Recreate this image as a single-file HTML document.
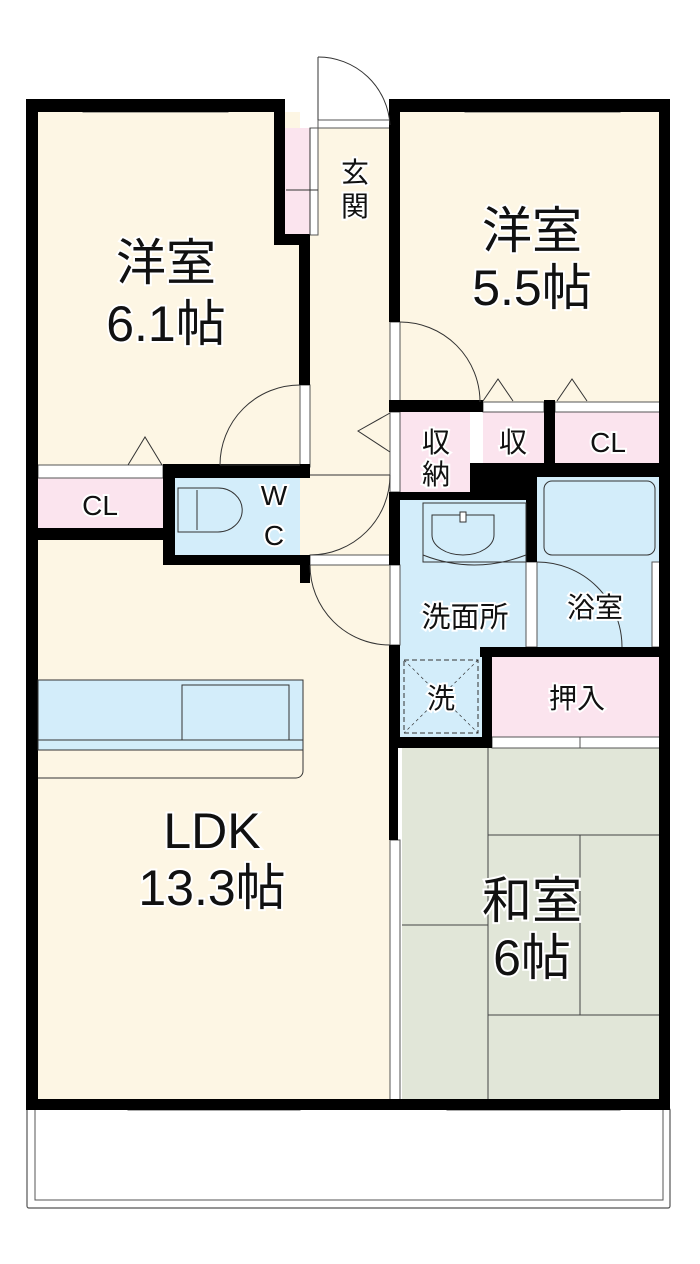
<!DOCTYPE html>
<html><head><meta charset="utf-8"><style>
html,body{margin:0;padding:0;background:#fff}
svg{display:block}
text{font-family:"Liberation Sans","Noto Sans CJK JP",sans-serif;fill:#111;stroke:#fff;stroke-width:4;paint-order:stroke;text-anchor:middle}
</style></head><body>
<svg width="700" height="1264" viewBox="0 0 700 1264" xmlns="http://www.w3.org/2000/svg">
<rect x="27" y="1108" width="643" height="100" fill="none" stroke="#555" stroke-width="1.2" rx="2"/>
<rect x="35" y="1108" width="628" height="92" fill="none" stroke="#555" stroke-width="1"/>
<rect x="38" y="112" width="262" height="355" fill="#fdf6e4"/>
<rect x="300" y="235" width="100" height="330" fill="#fdf6e4"/>
<rect x="38" y="540" width="352" height="562" fill="#fdf6e4"/>
<rect x="400" y="112" width="262" height="290" fill="#fdf6e4"/>
<rect x="318" y="128" width="72" height="107" fill="#fdf6e4"/>
<rect x="285" y="128" width="33" height="107" fill="#fbe4ee"/>
<rect x="38" y="478" width="125" height="50" fill="#fbe4ee"/>
<rect x="400" y="412" width="70" height="80" fill="#fbe4ee"/>
<rect x="483" y="412" width="61" height="51" fill="#fbe4ee"/>
<rect x="555" y="412" width="107" height="51" fill="#fbe4ee"/>
<rect x="492" y="657" width="170" height="80" fill="#fbe4ee"/>
<rect x="175" y="478" width="125" height="78" fill="#d3edfa"/>
<rect x="400" y="500" width="126" height="147" fill="#d3edfa"/>
<rect x="400" y="647" width="82" height="90" fill="#d3edfa"/>
<rect x="537" y="477" width="125" height="170" fill="#d3edfa"/>
<rect x="402" y="748" width="260" height="354" fill="#e1e6d8"/>
<g stroke="#444" stroke-width="1" fill="none">
<line x1="488" y1="748" x2="488" y2="1102"/>
<line x1="488" y1="835" x2="662" y2="835"/>
<line x1="580" y1="835" x2="580" y2="1015"/>
<line x1="488" y1="1015" x2="662" y2="1015"/>
<line x1="402" y1="925" x2="488" y2="925"/>
</g>
<g fill="#fff" stroke="#555" stroke-width="1">
<rect x="38" y="465" width="125" height="13"/>
<rect x="483" y="402" width="61" height="10"/>
<rect x="555" y="402" width="107" height="10"/>
<rect x="492" y="737" width="170" height="11"/>
<rect x="310" y="128" width="8" height="107"/>
<rect x="318" y="120" width="72" height="8"/>
<rect x="300" y="385" width="10" height="82"/>
<rect x="310" y="555" width="80" height="10"/>
<rect x="390" y="322" width="10" height="82"/>
<rect x="390" y="412" width="10" height="80"/>
<rect x="390" y="565" width="10" height="80"/>
<rect x="390" y="840" width="10" height="262"/>
<rect x="526" y="562" width="11" height="85"/>
<rect x="652" y="562" width="10" height="85"/>
<rect x="83" y="100" width="145" height="12"/>
<rect x="465" y="100" width="155" height="12"/>
<rect x="128" y="1100" width="172" height="10"/>
<rect x="447" y="1100" width="173" height="10"/>
</g>
<g stroke="#555" stroke-width="1">
<line x1="155" y1="100" x2="155" y2="112"/><line x1="543" y1="100" x2="543" y2="112"/>
<line x1="214" y1="1100" x2="214" y2="1110"/><line x1="534" y1="1100" x2="534" y2="1110"/>
<line x1="580" y1="737" x2="580" y2="748"/>
</g>
<g fill="#000">
<rect x="26" y="99" width="259" height="13"/>
<rect x="26" y="99" width="12" height="1011"/>
<rect x="274" y="99" width="11" height="146"/>
<rect x="274" y="234" width="36" height="11"/>
<rect x="299" y="234" width="11" height="151"/>
<rect x="389" y="99" width="281" height="13"/>
<rect x="389" y="99" width="11" height="223"/>
<rect x="659" y="99" width="11" height="1011"/>
<rect x="26" y="1099" width="644" height="11"/>
<rect x="163" y="464" width="147" height="14"/>
<rect x="163" y="464" width="12" height="101"/>
<rect x="163" y="555" width="147" height="10"/>
<rect x="38" y="528" width="125" height="12"/>
<rect x="300" y="565" width="10" height="18"/>
<rect x="389" y="400" width="94" height="12"/>
<rect x="544" y="400" width="11" height="63"/>
<rect x="470" y="463" width="200" height="14"/>
<rect x="470" y="463" width="67" height="37"/>
<rect x="526" y="477" width="11" height="85"/>
<rect x="389" y="492" width="11" height="73"/>
<rect x="400" y="492" width="70" height="8"/>
<rect x="389" y="645" width="11" height="103"/>
<rect x="480" y="647" width="190" height="10"/>
<rect x="482" y="647" width="10" height="101"/>
<rect x="389" y="737" width="103" height="11"/>
<rect x="389" y="748" width="9" height="92"/>
</g>
<g stroke="#333" stroke-width="1" fill="none">
<line x1="318" y1="57" x2="318" y2="120"/>
<path d="M318 57 A72 72 0 0 1 390 125"/>
<path d="M300 385 A80 80 0 0 0 220 465"/>
<line x1="220" y1="465" x2="300" y2="465"/>
<path d="M400 322 A80 80 0 0 1 480 402"/>
<path d="M390 475 A80 80 0 0 1 310 555"/>
<line x1="310" y1="475" x2="390" y2="475"/>
<path d="M310 565 A80 80 0 0 0 390 645"/>
<path d="M537 562 A85 85 0 0 1 622 647"/>
<polyline points="390,413 358,431 390,452"/>
<polyline points="128,465 145,437 162,465"/>
<polyline points="483,401 498,379 513,401"/>
<polyline points="557,401 572,379 587,401"/>
<line x1="286" y1="190" x2="318" y2="190"/>
<line x1="310" y1="128" x2="310" y2="235"/>
<path d="M178 488 h40 a22 20 0 0 1 0 44 h-40 z" fill="#d3edfa"/>
<line x1="197" y1="490" x2="197" y2="530"/>
<rect x="423" y="503" width="103" height="59" fill="#d3edfa"/>
<path d="M432 515 h62 v20 a31 20 0 0 1 -62 0 z"/>
<rect x="460" y="512" width="6" height="10" fill="#fff"/>
<path d="M423 555 q51 20 103 0"/>
<rect x="544" y="481" width="111" height="74" rx="8"/>
<rect x="404" y="660" width="74" height="73" stroke-dasharray="5 3"/>
<line x1="404" y1="660" x2="478" y2="733" stroke-dasharray="3 3" stroke-width="0.7"/>
<line x1="478" y1="660" x2="404" y2="733" stroke-dasharray="3 3" stroke-width="0.7"/>
<rect x="38" y="680" width="265" height="70" fill="#d3edfa"/>
<rect x="182" y="685" width="107" height="55"/>
<line x1="38" y1="740" x2="303" y2="740"/>
<path d="M38 778 h258 a7 7 0 0 0 7 -7 v-21"/>
</g>
<text x="166" y="280" font-size="50">洋室</text>
<text x="166" y="341" font-size="50">6.1帖</text>
<text x="532" y="248" font-size="50">洋室</text>
<text x="532" y="305" font-size="50">5.5帖</text>
<text x="355" y="182" font-size="28">玄</text>
<text x="355" y="216" font-size="28">関</text>
<text x="100" y="515" font-size="28">CL</text>
<text x="274" y="505" font-size="28">W</text>
<text x="274" y="545" font-size="28">C</text>
<text x="436" y="452" font-size="28">収</text>
<text x="436" y="484" font-size="28">納</text>
<text x="513" y="452" font-size="28">収</text>
<text x="608" y="452" font-size="28">CL</text>
<text x="465" y="627" font-size="29">洗面所</text>
<text x="595" y="617" font-size="28">浴室</text>
<text x="441" y="708" font-size="28">洗</text>
<text x="577" y="708" font-size="28">押入</text>
<text x="212" y="848" font-size="50">LDK</text>
<text x="212" y="905" font-size="50">13.3帖</text>
<text x="532" y="918" font-size="50">和室</text>
<text x="532" y="975" font-size="50">6帖</text>
</svg>
</body></html>
